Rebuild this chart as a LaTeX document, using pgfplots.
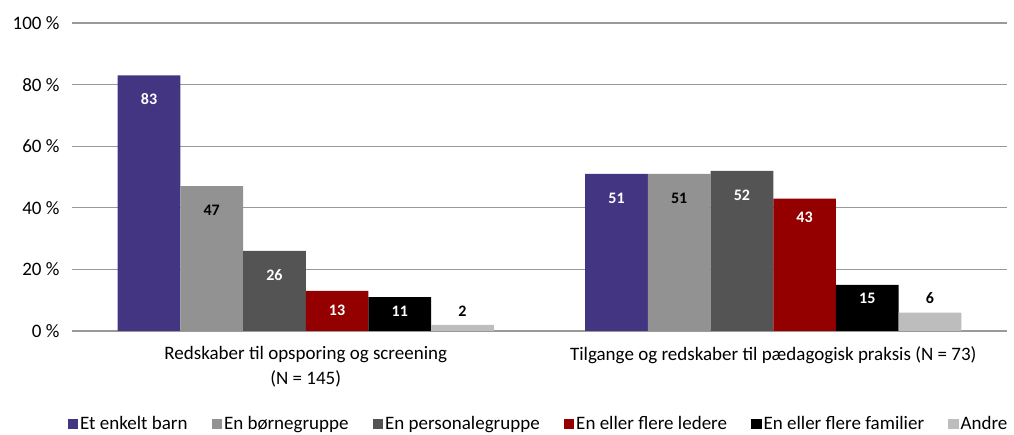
\documentclass[border=0pt]{standalone}
\usepackage{fontspec}
\setmainfont{Carlito}
\usepackage{pgfplots}
\pgfplotsset{compat=1.18}
\definecolor{cPurple}{HTML}{433582}
\definecolor{cGray}{HTML}{929292}
\definecolor{cDark}{HTML}{545454}
\definecolor{cRed}{HTML}{940000}
\definecolor{cBlack}{HTML}{000000}
\definecolor{cLight}{HTML}{BDBDBD}
\begin{document}
\begin{tikzpicture}[x=1pt,y=1pt]
\useasboundingbox (0,0) rectangle (1014,435);
\begin{axis}[
  at={(72pt,104pt)}, anchor=south west,
  scale only axis, width=935pt, height=308pt,
  ybar=0pt, bar width=62.7pt,
  xmin=-0.5, xmax=1.5, ymin=0, ymax=100,
  /pgf/number format/assume math mode=true,
  ytick={0,20,40,60,80,100},
  yticklabels={0 \%,20 \%,40 \%,60 \%,80 \%,100 \%},
  xtick={0,1},
  xticklabels={{Redskaber til opsporing og screening\\(N = 145)},{Tilgange og redskaber til pædagogisk praksis (N = 73)}},
  xticklabel style={align=center, font=\fontsize{19}{25}\selectfont, yshift=-12pt},
  yticklabel style={font=\fontsize{19}{20}\selectfont, xshift=-9pt},
  major tick length=0pt,
  axis line style={draw=none},
  ymajorgrids, grid style={draw=black!40, line width=1.2pt},
  legend columns=6,
  legend style={draw=none, at={(0.499,-0.302)}, anchor=center,
    font=\fontsize{19}{20}\selectfont,
    /tikz/every even column/.append style={column sep=22pt}},
  legend image code/.code={\fill[#1] (-3pt,-5pt) rectangle (7.5pt,5.5pt);},
  every node near coord/.append style={font=\bfseries\fontsize{16}{18}\selectfont, anchor=center, yshift=-24pt},
]
\addplot[fill=cPurple, draw=none, nodes near coords, every node near coord/.append style={text=white}] coordinates {(0,83) (1,51)};
\addplot[fill=cGray, draw=none, nodes near coords, every node near coord/.append style={text=black}] coordinates {(0,47) (1,51)};
\addplot[fill=cDark, draw=none, nodes near coords, every node near coord/.append style={text=white}] coordinates {(0,26) (1,52)};
\addplot[fill=cRed, draw=none, nodes near coords, every node near coord/.append style={text=white, yshift=5pt}] coordinates {(0,13) (1,43)};
\addplot[fill=cBlack, draw=none, nodes near coords, every node near coord/.append style={text=white, yshift=10pt}] coordinates {(0,11) (1,15)};
\addplot[fill=cLight, draw=none, nodes near coords, every node near coord/.append style={text=black, yshift=38pt}] coordinates {(0,2) (1,6)};
\legend{Et enkelt barn, En børnegruppe, En personalegruppe, En eller flere ledere, En eller flere familier, Andre}
\end{axis}
\end{tikzpicture}
\end{document}
